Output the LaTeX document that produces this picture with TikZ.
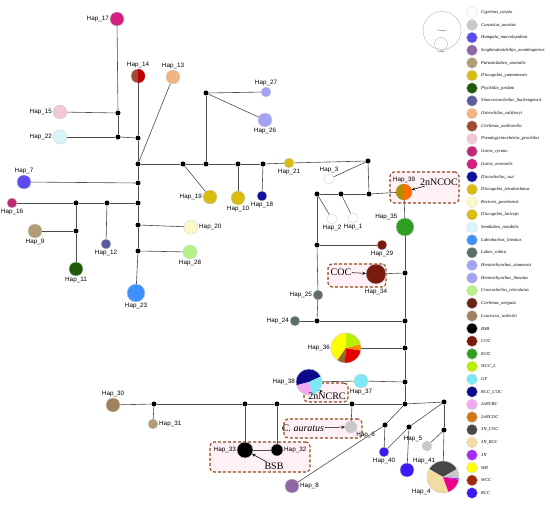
\documentclass[tikz,border=0pt]{standalone}
\usepackage{fontspec}
\setmainfont{Liberation Serif}
\setsansfont{Liberation Sans}
\usetikzlibrary{arrows.meta}

\definecolor{cCarpio}{HTML}{FFFFFF}
\definecolor{cAuratus}{HTML}{C8C8C8}
\definecolor{cHampala}{HTML}{5B4BF0}
\definecolor{cScaph}{HTML}{8E68A4}
\definecolor{cParasin}{HTML}{B39B76}
\definecolor{cDiscoY}{HTML}{D8BC10}
\definecolor{cPtych}{HTML}{1F5B0C}
\definecolor{cSino}{HTML}{5C5C9A}
\definecolor{cOsteo}{HTML}{F2B483}
\definecolor{cCirrMol}{HTML}{A04A30}
\definecolor{cPseudo}{HTML}{F2C8D2}
\definecolor{cGarraC}{HTML}{C0287A}
\definecolor{cGarraO}{HTML}{D42080}
\definecolor{cDiscoW}{HTML}{1212A0}
\definecolor{cDiscoT}{HTML}{D8BC10}
\definecolor{cRector}{HTML}{FBF9C6}
\definecolor{cDiscoL}{HTML}{D8BC10}
\definecolor{cSemi}{HTML}{D6F6FA}
\definecolor{cLabio}{HTML}{3D92FF}
\definecolor{cLabeo}{HTML}{5B6F66}
\definecolor{cHenS}{HTML}{A3A3F6}
\definecolor{cHenL}{HTML}{A3A3F6}
\definecolor{cCrosso}{HTML}{B6F286}
\definecolor{cCirrMri}{HTML}{6A2412}
\definecolor{cLeuc}{HTML}{A0815E}
\definecolor{cBSB}{HTML}{000000}
\definecolor{cCOC}{HTML}{7A1A0C}
\definecolor{cKOC}{HTML}{2F9E22}
\definecolor{cWCCL}{HTML}{B8F000}
\definecolor{cGF}{HTML}{7DE8F6}
\definecolor{cRCCCOC}{HTML}{0A0A8A}
\definecolor{c2nNCRC}{HTML}{F2A8F2}
\definecolor{c2nNCOC}{HTML}{D07816}
\definecolor{c3NCOC}{HTML}{474747}
\definecolor{c3NRCC}{HTML}{F2DCA2}
\definecolor{c3N}{HTML}{A52CF2}
\definecolor{cWR}{HTML}{FFFF00}
\definecolor{cWCC}{HTML}{A22A0C}
\definecolor{cRCC}{HTML}{3E18F2}
\definecolor{tagbrown}{HTML}{8B4A1C}
\definecolor{tagpink}{HTML}{FFF1F5}

\newcommand{\pieslice}[5]{\fill[#5] (#1) -- ++(#3:#2pt) arc[start angle=#3, end angle=#4, radius=#2pt] -- cycle;}

\begin{document}
\begin{tikzpicture}[x=1pt, y=-1pt, >=stealth,
	hap/.style={circle, draw=gray!35, line width=0.4pt, inner sep=0pt, minimum size=#1},
	jn/.style={circle, fill=black, inner sep=0pt, minimum size=5pt},
	every label/.style={font=\sffamily\fontsize{6.3}{7}\selectfont, inner sep=0.8pt},
	link/.style={black!70, line width=0.6pt},
	tagbox/.style={draw=tagbrown, densely dashed, line width=1.1pt, rounded corners=4pt, fill=tagpink},
	tagtext/.style={font=\fontsize{10}{11}\selectfont, inner sep=0.5pt},
	tagarrow/.style={->, line width=0.5pt},
	leg/.style={circle, draw=gray!30, line width=0.3pt, inner sep=0pt, minimum size=11pt},
	legtext/.style={font=\itshape\fontsize{4.6}{5}\selectfont, anchor=west, inner sep=0pt}]

	\useasboundingbox (0,0) rectangle (550,505);

	% dashed tag boxes
	\node[tagbox, minimum width=69pt, minimum height=31pt] (box39) at (424.5,187.5) {};
	\node[tagbox, minimum width=58pt, minimum height=23pt] (box34) at (357,275.5) {};
	\node[tagbox, minimum width=44pt, minimum height=19pt] (box38) at (326,392.5) {};
	\node[tagbox, minimum width=78pt, minimum height=19pt] (box6) at (323,428.5) {};
	\node[tagbox, minimum width=100pt, minimum height=30pt] (box33) at (260,457) {};

	% haplotypes
	\foreach \k/\x/\y/\sz/\col/\pos in {
		17/117/19/14/cGarraO/left, 14/138/76/14/cCirrMol/above, 13/173/77/14/cOsteo/above,
		15/60/112/14/cPseudo/left, 22/60/137/14/cSemi/left, 7/24/182/14/cHampala/above,
		16/12/203/10/cGarraC/below, 9/35/231/14/cParasin/below, 11/76/269/14/cPtych/below,
		12/106/244/10/cSino/below, 23/136/293/18/cLabio/below, 20/191/227/14/cRector/right,
		28/190/252/14/cCrosso/below, 19/210/197/14/cDiscoY/left, 10/238/198/14/cDiscoT/below,
		18/262/196/10/cDiscoW/below, 21/289/163/10/cDiscoL/below, 27/266/92/10/cHenS/above,
		26/265/120/14/cHenL/below, 3/329/179/10/white/above, 2/332/219/10/white/below,
		1/353/218/10/white/below, 39/404/192/16/c2nNCOC/above, 35/405/227/18/cKOC/above left,
		29/382/245/10/cCOC/below, 25/318/295/10/cLabeo/left,
		24/295/321/10/cLabeo/left, 36/346/348/30/white/left, 37/361/381/14/cGF/below,
		38/309/382/26/white/left, 6/351/427/12/cAuratus/below right, 33/245/450/16/cBSB/left,
		32/277/450/12/cBSB/right, 8/292/486/14/cScaph/right, 40/384/452/10/cRCC/below,
		41/407/470/14/cRCC/above right, 5/427/446/10/cAuratus/above left, 4/443/477/32/white/below left,
		30/113/405/14/cLeuc/above, 31/153/424/10/cParasin/right}
		\node[hap=\sz pt, fill=\col, label={\pos:Hap\_\k}] (h\k) at (\x,\y) {};
	\node[hap=20pt, fill=cCOC, label={[label distance=4pt]below:Hap\_34}] (h34) at (376,274) {};

	% median vectors
	\foreach \n/\x/\y in {ja/118/113, jb/118/137, jc/138/138, jd/138/164, je/183/164, jf/206/164,
		jg/206/93, jh/138/183, ji/76/203, jj/107/203, jk/138/203, jl/76/231, jm/138/225, jn/138/251,
		jo/238/164, jp/263/164, jq/368/161, jr/369/194, js/341/194, jt/317/194, ju/317/245,
		jv/405/273, jw/317/321, jx/405/321, jy/405/348, jz/405/382,
		k1/154/404, k2/245/404, k3/277/404, k4/352/404, k5/405/404, k6/444/402,
		k7/385/425, k8/409/427, k9/444/430}
		\node[jn] (\n) at (\x,\y) {};

	% links
	\foreach \a/\b in {h17/ja, ja/h15, ja/jb, jb/h22, jb/jc, h14/jc, jc/jd, h13/jd, jd/je, je/jf,
		jf/jg, jg/h27, jg/h26, je/h19, jd/jh, jh/h7, jh/jk, jk/jj, jj/ji, ji/h16, jj/h12, ji/jl,
		jl/h9, jl/h11, jk/jm, jm/h20, jm/jn, jn/h28, jn/h23,
		jf/jo, jo/h10, jo/jp, jp/h18, jp/h21, h21/jq, jq/h3, jq/jr, jr/js, js/jt, js/h1, jt/h2,
		jr/h39, h39/h35, h35/jv, jt/ju, ju/h29, ju/h25, h25/jw, jw/h24, jw/jx, jv/h34, jv/jx,
		jx/jy, jy/h36, jy/jz, jz/h37, h37/h38, jz/k5, k5/k4, k4/h6, k4/k3, k3/h32, k3/k2, k2/h33,
		h33/h32, k2/k1, k1/h30, k1/h31, k5/k6, k5/k7, k7/h8, k7/h40, k6/k8, k8/h41, k8/h40,
		k6/k9, k9/h4, k9/h5}
		\draw[link] (\a) -- (\b);

	% pies
	\pieslice{h14.center}{7}{270}{450}{red!75!black}
	\pieslice{h39.center}{8}{90}{270}{olive!70!orange}
	\pieslice{h39.center}{8}{270}{450}{orange!85!red}
	\pieslice{h36.center}{15}{90}{235}{cWR}
	\pieslice{h36.center}{15}{235}{265}{brown!80!black}
	\pieslice{h36.center}{15}{265}{350}{red!90!black}
	\pieslice{h36.center}{15}{350}{375}{orange!90!yellow}
	\pieslice{h36.center}{15}{375}{450}{cWCCL}
	\pieslice{h38.center}{13}{25}{195}{cRCCCOC}
	\pieslice{h38.center}{13}{195}{285}{c2nNCRC}
	\pieslice{h38.center}{13}{285}{385}{cGF}
	\pieslice{h4.center}{16}{30}{150}{c3NCOC}
	\pieslice{h4.center}{16}{150}{290}{c3NRCC}
	\pieslice{h4.center}{16}{290}{350}{magenta}
	\pieslice{h4.center}{16}{350}{357}{c3N}
	\pieslice{h4.center}{16}{357}{390}{cAuratus}
	\foreach \h/\r in {h36/15, h38/13, h4/16}
		\draw[gray!35, line width=0.4pt] (\h.center) circle[radius=\r pt];

	% tags
	\node[tagtext] (t39) at (439,182) {2nNCOC};
	\node[tagtext] (t34) at (341,272) {COC};
	\node[tagtext] (t38) at (327,396) {2nNCRC};
	\node[tagtext, font=\itshape\fontsize{10}{11}\selectfont] (t6) at (303,428) {C. auratus};
	\node[tagtext] (t33) at (274,466) {BSB};
	\draw[tagarrow] (t39) -- (h39);
	\draw[tagarrow] (t34) -- (h34);
	\draw[tagarrow] (t38) -- (h38);
	\draw[tagarrow] (t6) -- (h6);
	\draw[tagarrow] (t33) -- (h33);

	% sample size key
	\node[circle, draw=gray!60, line width=0.4pt, inner sep=0pt, minimum size=38pt] (sz10) at (442,30.5) {};
	\node[circle, draw=gray!60, line width=0.4pt, inner sep=0pt, minimum size=13pt] (sz1) at (441,44) {};
	\node[font=\fontsize{2}{2}\selectfont, inner sep=0pt] (sz10t) at (442,31) {10 samples};
	\node[font=\fontsize{2}{2}\selectfont, inner sep=0pt] (sz1t) at (441,52) {1 sample};

	% legend
	\foreach \col/\name [count=\i] in {cCarpio/Cyprinus\_carpio, cAuratus/Carassius\_auratus,
		cHampala/Hampala\_macrolepidota, cScaph/Scaphiodonichthys\_acanthopterus,
		cParasin/Parasinilabeo\_assimilis, cDiscoY/Discogobio\_yunnanensis, cPtych/Ptychidio\_jordani,
		cSino/Sinocrossocheilus\_liuchengensis, cOsteo/Osteochilus\_salsburyi,
		cCirrMol/Cirrhinus\_molitorella, cPseudo/Pseudogyrinocheilus\_prochilus,
		cGarraC/Garra\_cyrano, cGarraO/Garra\_orientalis, cDiscoW/Discocheilus\_wui,
		cDiscoT/Discogobio\_tetrabarbatus, cRector/Rectoris\_posehensis, cDiscoL/Discogobio\_laticeps,
		cSemi/Semilabeo\_notabilis, cLabio/Labiobarbus\_lineatus, cLabeo/Labeo\_rohita,
		cHenS/Henicorhynchus\_siamensis, cHenL/Henicorhynchus\_lineatus,
		cCrosso/Crossocheilus\_reticulatus, cCirrMri/Cirrhinus\_mrigala, cLeuc/Leuciscus\_waleckii,
		cBSB/BSB, cCOC/COC, cKOC/KOC, cWCCL/WCC\_L, cGF/GF, cRCCCOC/RCC\_COC, c2nNCRC/2nNCRC,
		c2nNCOC/2nNCOC, c3NCOC/3N\_COC, c3NRCC/3N\_RCC, c3N/3N, cWR/WR, cWCC/WCC, cRCC/RCC} {
		\node[leg, fill=\col] (lg\i) at (472,{12.3+12.65*(\i-1)}) {};
		\node[legtext] (lt\i) at (481,{12.3+12.65*(\i-1)}) {\name};
	}
\end{tikzpicture}
\end{document}
